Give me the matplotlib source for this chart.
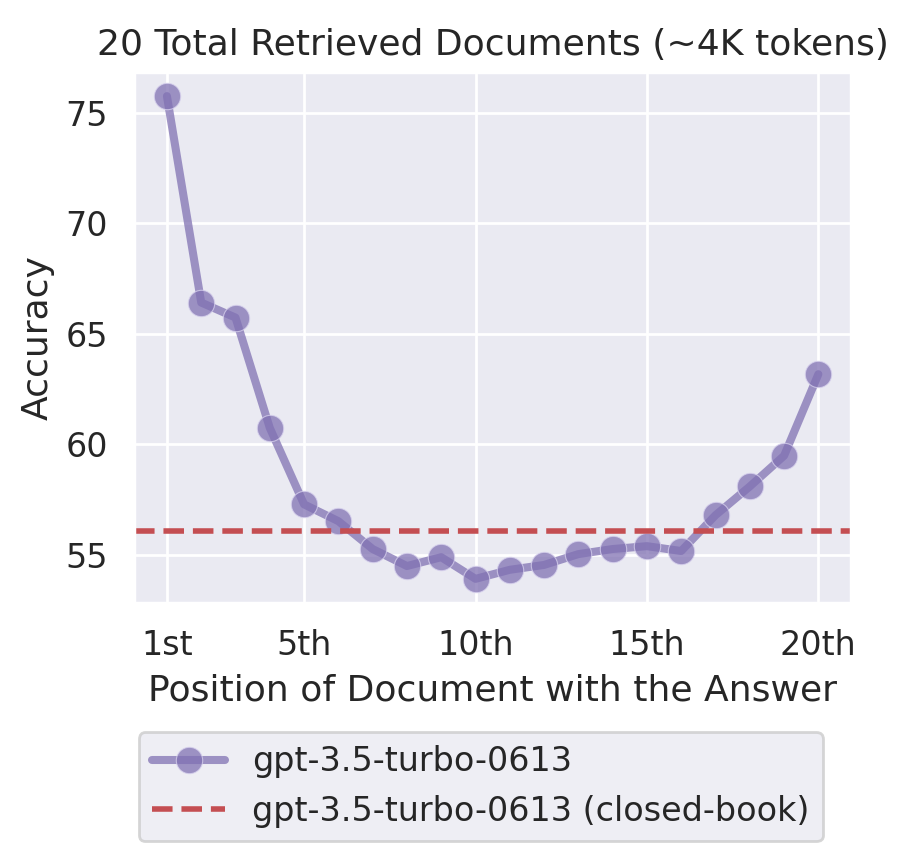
import matplotlib
matplotlib.use("Agg")
import matplotlib.pyplot as plt
import seaborn as sns
import numpy as np

sns.set_theme(style="darkgrid")

positions = np.arange(1, 21)
accuracy = [75.76, 66.42, 65.74, 60.75, 57.29, 56.53, 55.27, 54.50, 54.90, 53.92,
            54.33, 54.55, 55.04, 55.27, 55.40, 55.18, 56.80, 58.10, 59.49, 63.18]
closed_book = 56.1
tick_pos = [1, 5, 10, 15, 20]
tick_labels = ["1st", "5th", "10th", "15th", "20th"]

fig = plt.figure(figsize=(4.57, 4.335), dpi=200)
ax = fig.add_axes([0.147, 0.3045, 0.784, 0.6125])

ax.plot(positions, accuracy, marker="o", color="#8172B3", alpha=0.75, lw=2.9,
        markersize=9.5, mec="#d8d2ee", mew=0.4, label="gpt-3.5-turbo-0613")
ax.axhline(closed_book, color="#C44E52", ls="--", lw=2,
           label="gpt-3.5-turbo-0613 (closed-book)")

ax.set_xticks(tick_pos)
ax.set_xticklabels(tick_labels, fontsize=12)
ax.set_yticks([55, 60, 65, 70, 75])
ax.tick_params(axis="y", labelsize=12)
ax.set_xlabel("Position of Document with the Answer", fontsize=13)
ax.set_ylabel("Accuracy", fontsize=13)
ax.set_title("20 Total Retrieved Documents (~4K tokens)", fontsize=13)

fig.legend(loc="upper center", bbox_to_anchor=(0.526, 0.175), fontsize=12,
           handlelength=2.2)

fig.savefig("out.png", dpi=200)
